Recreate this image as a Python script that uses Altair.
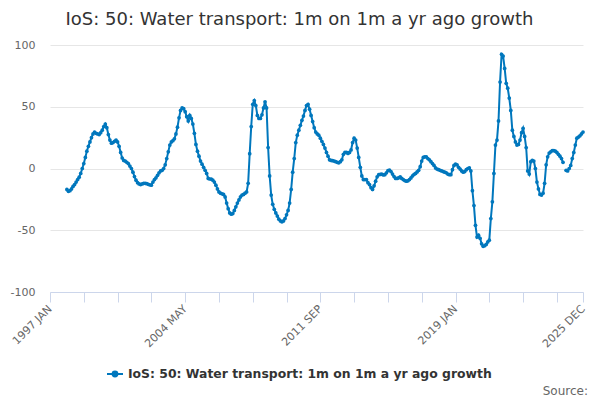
import altair as alt
import pandas as pd

TITLE = "IoS: 50: Water transport: 1m on 1m a yr ago growth"
SERIES = "IoS: 50: Water transport: 1m on 1m a yr ago growth"
BLUE = "#0077bd"

MONTHS = ["JAN", "FEB", "MAR", "APR", "MAY", "JUN",
          "JUL", "AUG", "SEP", "OCT", "NOV", "DEC"]
YEARS = list(range(1997, 2026))

# monthly values, one list per year (None = no data)
g1997 = [None, None, None, None, None, None, None, None, None, None, None, -17]
g1998 = [-18.5, -18, -16.5, -14.5, -13, -11, -9, -7, -4, 0, 4, 9]
g1999 = [14, 18, 21.5, 25, 28, 29.5, 28.5, 28, 27.5, 29, 31, 34]
g2000 = [36, 33, 27.5, 23, 20.5, 21, 22, 23, 21.5, 18, 13, 8.5]
g2001 = [6.5, 6, 5, 4, 2, 0, -3, -6.5, -9.5, -11.5, -12.5, -13]
g2002 = [-12.5, -12, -12, -12.3, -12.8, -13.2, -13.5, -11, -9, -7.5, -5.5, -3.5]
g2003 = [-2, -1.5, 0, 3, 8, 13.5, 19, 21.5, 22.5, 24, 28, 33.5]
g2004 = [41, 47, 49, 48.5, 46, 42, 38.5, 43, 40.5, 36, 28.5, 19.5]
g2005 = [14, 10, 6, 3.5, 1, -1.5, -4, -8, -8.5, -8.6, -9.5, -11]
g2006 = [-13.5, -16.5, -19, -20, -20.5, -21, -23, -28, -32.5, -36, -37, -36.5]
g2007 = [-34, -31, -28, -25.5, -23, -21.5, -21, -20, -19, -12, 12, 34]
g2008 = [52, 55, 51, 43, 40.5, 40.5, 43.5, 49, 54, 49, 17, -6]
g2009 = [-21.5, -29, -33, -36, -38.5, -41, -42.5, -43.2, -42.5, -40.5, -37.5, -34]
g2010 = [-28, -17, -3, 8, 21, 27, 31, 35, 39, 42.5, 47, 51]
g2011 = [52, 48, 43, 38, 33, 29.5, 28, 27, 24.5, 22, 19.5, 16.5]
g2012 = [13, 10, 7, 6.5, 6.3, 6, 5.5, 5, 4.6, 5.5, 7, 11.5]
g2013 = [13, 13, 12.2, 13, 15, 21, 24.5, 23, 16.5, 9, 1, -6]
g2014 = [-9, -9, -9, -11.5, -13, -15.5, -17, -14, -10.3, -6.7, -5, -4.8]
g2015 = [-4.6, -5.2, -5, -3.5, -1.8, -1.4, -2.5, -4.5, -6.5, -8, -8, -7.5]
g2016 = [-6.8, -8, -9, -9.8, -10.3, -10, -9, -7.6, -6, -4.8, -4, -2.8]
g2017 = [-1.5, 1.5, 6, 9, 9.5, 9.5, 8, 7, 5.5, 4, 2.5, 0.5]
g2018 = [-0.5, -1, -1.5, -2, -2.5, -3, -3.5, -4.5, -5, -5, -1, 2.5]
g2019 = [3.5, 3, 1, -0.5, -2, -3, -2.5, -1, 0, 0.5, -2, -18]
g2020 = [-30, -46, -55.5, -54, -56.5, -61, -63, -62.5, -61.5, -59.5, -58, -40.5]
g2021 = [-27, -4, 19, 23, 38.5, 70, 92.5, 91, 81, 69, 65, 57]
g2022 = [47, 31, 26, 21.5, 19, 19.5, 23, 29, 32.5, 26, 17, -2]
g2023 = [-4.5, 5.5, 6.5, 6, 0, -11, -16.5, -21, -21.5, -20, -12, 3]
g2024 = [9.5, 12.5, 13.5, 14.5, 14.5, 14, 13, 11.5, 10, 8, 5, None]
g2025 = [-1.5, -2, 0, 2.5, 8, 13, 19, 24.5, 25.5, 26.5, 28, 29.5]

YEAR_VALUES = [g1997, g1998, g1999, g2000, g2001, g2002, g2003, g2004, g2005,
               g2006, g2007, g2008, g2009, g2010, g2011, g2012, g2013, g2014,
               g2015, g2016, g2017, g2018, g2019, g2020, g2021, g2022, g2023,
               g2024, g2025]

# x axis: ticks every 22 months plus the last month; labels every 88 months
TICK_STEP = 22
LABEL_STEP = 88
Y_TICKS = [-100, -50, 0, 50, 100]

month_labels = [f"{y} {m}" for y in YEARS for m in MONTHS]
values = [v for year in YEAR_VALUES for v in year]
index = list(range(len(month_labels)))
last = len(month_labels) - 1

df = pd.DataFrame({"i": index, "month": month_labels,
                   "value": values, "series": SERIES})

tick_vals = list(range(0, last + 1, TICK_STEP)) + [last]
label_pos = list(range(0, last + 1, LABEL_STEP)) + [last]
expr = "''"
for p in reversed(label_pos):
    expr = f"datum.value == {p} ? '{month_labels[p]}' : ({expr})"

legend_symbol = ("M -1 0 L 1 0 M 0.3 0 A 0.3 0.3 0 1 1 -0.3 0 "
                 "A 0.3 0.3 0 1 1 0.3 0 Z")

line = alt.Chart(df).mark_line(
    strokeWidth=2,
    point=alt.OverlayMarkDef(filled=True, size=14),
    invalid="break-paths-filter-domains",
).encode(
    x=alt.X("i:Q",
            scale=alt.Scale(domain=[0, last], nice=False, zero=False),
            axis=alt.Axis(values=tick_vals, labelExpr=expr, title=None,
                          labelAngle=-45, labelAlign="right",
                          labelBaseline="middle", labelFlush=False,
                          labelOverlap=False, labelFontSize=11,
                          labelColor="#666666", labelPadding=5,
                          domainColor="#ccd6eb", tickColor="#ccd6eb",
                          tickSize=10, grid=False)),
    y=alt.Y("value:Q",
            scale=alt.Scale(domain=[-100, 100], nice=False),
            axis=alt.Axis(values=Y_TICKS, labelExpr="'' + datum.value",
                          title=None, domain=False, ticks=False,
                          labelPadding=15, labelFontSize=11,
                          labelColor="#666666", gridColor="#e6e6e6")),
    color=alt.Color("series:N", scale=alt.Scale(range=[BLUE]),
                    legend=alt.Legend(orient="none", legendX=56, legendY=320,
                                      title=None, symbolType=legend_symbol,
                                      symbolSize=256, symbolStrokeWidth=2,
                                      symbolStrokeColor=BLUE,
                                      symbolFillColor=BLUE,
                                      labelFontSize=12.4, labelFontWeight="bold",
                                      labelColor="#333333", labelLimit=600)),
    tooltip=["month:N", "value:Q"],
)

source = alt.Chart(pd.DataFrame({"t": ["Source:"]})).mark_text(
    align="right", baseline="middle", fontSize=12, color="#666666"
).encode(text="t:N", x=alt.value(538), y=alt.value(346))

chart = alt.layer(line, source).properties(
    width=533,
    height=247,
    title=alt.TitleParams(TITLE, fontSize=18, fontWeight="normal",
                          color="#333333", anchor="middle", dx=-17, offset=10),
    padding={"left": 42, "top": 37, "right": 9, "bottom": 108},
    autosize=alt.AutoSizeParams(type="none"),
).configure(font="DejaVu Sans").configure_view(stroke=None)

chart.save("out.html", embed_options={"renderer": "svg", "actions": False})
